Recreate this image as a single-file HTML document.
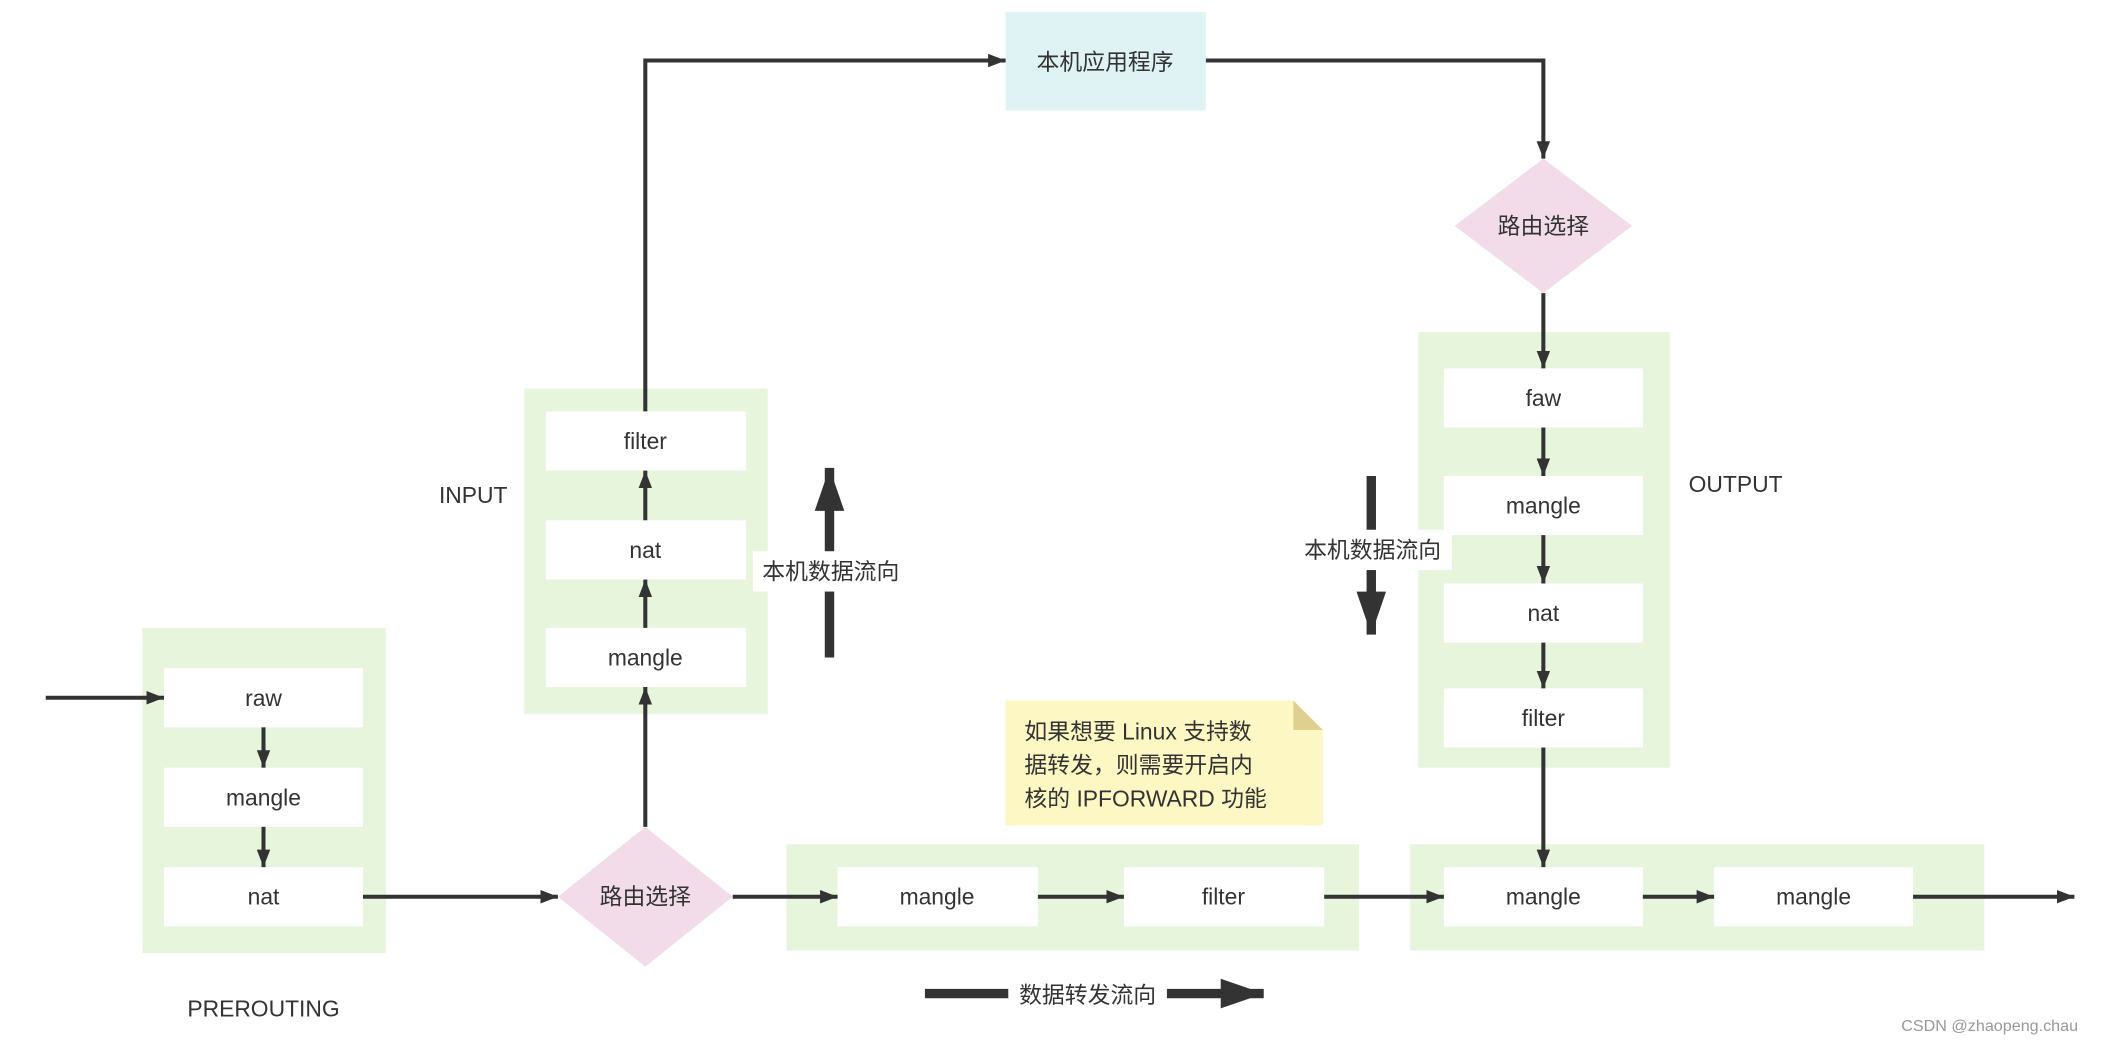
<!DOCTYPE html>
<html><head><meta charset="utf-8"><style>
html,body{margin:0;padding:0;background:#fff}
svg{display:block}
text{font-family:"Liberation Sans","Noto Sans CJK SC",sans-serif;fill:#333;font-size:17px;text-anchor:middle;dominant-baseline:central}
</style></head><body>
<svg width="2108" height="1046" viewBox="0 0 1568 778" xmlns="http://www.w3.org/2000/svg">
<defs>
<marker id="a" viewBox="0 0 10 10" refX="10" refY="5" markerWidth="13" markerHeight="10" markerUnits="userSpaceOnUse" orient="auto" preserveAspectRatio="none"><path d="M0,0L10,5L0,10z" fill="#333"/></marker>
<marker id="b" viewBox="0 0 10 10" refX="10" refY="5" markerWidth="32" markerHeight="22" markerUnits="userSpaceOnUse" orient="auto" preserveAspectRatio="none"><path d="M0,0L10,5L0,10z" fill="#333"/></marker>
</defs>
<g fill="#e6f5dc">
<rect x="106" y="467" width="181" height="242"/>
<rect x="390" y="289" width="181" height="242"/>
<rect x="1055" y="247" width="187" height="324"/>
<rect x="585" y="628" width="426" height="79"/>
<rect x="1049" y="628" width="427" height="79"/>
</g>
<g fill="#fff">
<rect x="122" y="497" width="148" height="44"/><rect x="122" y="571" width="148" height="44"/><rect x="122" y="645" width="148" height="44"/>
<rect x="406" y="306" width="149" height="44"/><rect x="406" y="387" width="149" height="44"/><rect x="406" y="467" width="149" height="44"/>
<rect x="1074" y="274" width="148" height="44"/><rect x="1074" y="354" width="148" height="44"/><rect x="1074" y="434" width="148" height="44"/><rect x="1074" y="512" width="148" height="44"/>
<rect x="623" y="645" width="149" height="44"/><rect x="836" y="645" width="149" height="44"/>
<rect x="1074" y="645" width="148" height="44"/><rect x="1275" y="645" width="148" height="44"/>
</g>
<rect x="748" y="9" width="149" height="73" fill="#dff3f5"/>
<path d="M415,667L480,615L545,667L480,719z" fill="#f2dcea"/>
<path d="M1082,168L1148,118L1214,168L1148,218z" fill="#f2dcea"/>
<path d="M748,521H962L984,543V614H748z" fill="#fdf7c3"/>
<path d="M962,521L984,543H962z" fill="#e0d08f"/>
<g stroke="#333" stroke-width="3" fill="none" marker-end="url(#a)">
<path d="M34,519H122"/>
<path d="M196,541V571"/><path d="M196,615V645"/>
<path d="M270,667H415"/>
<path d="M480,615V511"/><path d="M480,467V431"/><path d="M480,387V350"/>
<path d="M480,306V45H748"/>
<path d="M897,45H1148V118"/>
<path d="M1148,218V274"/><path d="M1148,318V354"/><path d="M1148,398V434"/><path d="M1148,478V512"/>
<path d="M1148,556V645"/>
<path d="M545,667H623"/><path d="M772,667H836"/><path d="M985,667H1074"/>
<path d="M1222,667H1275"/><path d="M1423,667H1543"/>
</g>
<g stroke="#333" stroke-width="7" fill="none" marker-end="url(#b)">
<path d="M617,489V348"/>
<path d="M1020,354V472"/>
<path d="M688,739H940"/>
</g>
<rect x="560" y="410" width="118" height="30" fill="#fff"/>
<rect x="962" y="394" width="118" height="30" fill="#fff"/>
<rect x="750" y="726" width="118" height="28" fill="#fff"/>
<text x="196" y="519">raw</text><text x="196" y="593">mangle</text><text x="196" y="667">nat</text>
<text x="480" y="328">filter</text><text x="480" y="409">nat</text><text x="480" y="489">mangle</text>
<text x="1148" y="296">faw</text><text x="1148" y="376">mangle</text><text x="1148" y="456">nat</text><text x="1148" y="534">filter</text>
<text x="697" y="667">mangle</text><text x="910" y="667">filter</text>
<text x="1148" y="667">mangle</text><text x="1349" y="667">mangle</text>
<text x="822" y="46">本机应用程序</text>
<text x="480" y="667">路由选择</text><text x="1148" y="168">路由选择</text>
<text x="196" y="750">PREROUTING</text><text x="352" y="368">INPUT</text><text x="1291" y="360">OUTPUT</text>
<text x="618" y="425">本机数据流向</text><text x="1021" y="409">本机数据流向</text><text x="809" y="740">数据转发流向</text>
<text x="762" y="544" style="text-anchor:start">如果想要 Linux 支持数</text>
<text x="762" y="569" style="text-anchor:start">据转发，则需要开启内</text>
<text x="762" y="594" style="text-anchor:start">核的 IPFORWARD 功能</text>
<text x="1480" y="763" style="font-size:12px;fill:#999">CSDN @zhaopeng.chau</text>
</svg>
</body></html>
